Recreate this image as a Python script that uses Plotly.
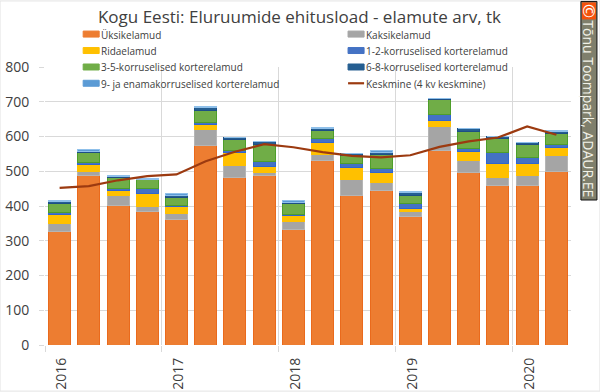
import plotly.graph_objects as go

periods = ["2016 K1","2016 K2","2016 K3","2016 K4","2017 K1","2017 K2","2017 K3","2017 K4","2018 K1",
           "2018 K2","2018 K3","2018 K4","2019 K1","2019 K2","2019 K3","2019 K4","2020 K1","2020 K2"]
x_index = list(range(len(periods)))
year_positions = [0, 4, 8, 12, 16]
year_labels = ["2016", "2017", "2018", "2019", "2020"]
year_boundaries = [-0.5, 3.5, 7.5, 11.5, 15.5]
y_ticks = [0, 100, 200, 300, 400, 500, 600, 700, 800]

uksikelamud = [328,487,402,383,361,573,481,487,332,532,431,446,369,561,497,460,460,500]
kaksikelamud = [23,13,27,15,16,46,35,10,24,17,46,23,14,69,35,23,29,46]
ridaelamud = [24,20,15,37,23,16,39,17,18,35,33,28,9,17,26,40,34,21]
k12 = [5,6,5,16,2,6,6,14,2,11,11,12,14,17,8,32,18,11]
k35 = [28,28,33,24,23,35,31,50,30,23,25,40,24,43,49,40,37,32]
k68 = [4,4,3,2,5,8,5,7,5,6,6,5,10,2,8,6,5,5]
k9 = [3,5,3,1,5,3,0,2,4,3,0,6,3,1,0,0,0,3]
keskmine = [452,457,474,486,491,529,556,578,569,555,544,540,546,570,586,597,629,605]
line_name = "Keskmine (4 kv keskmine)"
line_color = "#9c3a10"

series = [
    ("Üksikelamud", uksikelamud, "#ed7d31", "#ea6a1c"),
    ("Kaksikelamud", kaksikelamud, "#a5a5a5", "#b5b5b5"),
    ("Ridaelamud", ridaelamud, "#ffc000", "#ffc000"),
    ("1-2-korruselised korterelamud", k12, "#4472c4", "#2f66d0"),
    ("3-5-korruselised korterelamud", k35, "#70ad47", "#4e9e2a"),
    ("6-8-korruselised korterelamud", k68, "#255e91", "#1d4f85"),
    ("9- ja enamakorruselised korterelamud", k9, "#5b9bd5", "#8fc0ea"),
]

W, H = 600, 392
L, R, T, B = 45.4, 570.6, 66.7, 345.3
def px(x): return (x - L) / (R - L)
def py(y): return (B - y) / (B - T)

fig = go.Figure()
for name, vals, col, edge in series:
    fig.add_bar(x=x_index, y=vals, name=name, marker=dict(color=col, line=dict(color=edge, width=1)))
fig.add_scatter(x=x_index, y=keskmine, name=line_name, mode="lines", line=dict(color=line_color, width=2.2))

FONT = "Open Sans"
TXT = "#404040"

shapes = [
    dict(type="rect", xref="paper", yref="paper", x0=px(0.5), x1=px(599.5), y0=py(391.5), y1=py(0.5),
         line=dict(color="#e3e3e3", width=1), fillcolor="rgba(0,0,0,0)", layer="below"),
    dict(type="rect", xref="paper", yref="paper", x0=px(580.5), x1=px(596.5), y0=py(200), y1=py(1),
         line=dict(color="#111111", width=1), fillcolor="#7f7f6c"),
    dict(type="rect", xref="paper", yref="paper", x0=px(581.5), x1=px(595.5), y0=py(19), y1=py(2),
         line=dict(width=0), fillcolor="#f4510b"),
]
annotations = [
    dict(text="©", xref="paper", yref="paper", x=px(588.5), y=py(10.5), showarrow=False,
         font=dict(family=FONT, size=17, color="white"), textangle=90, xanchor="center", yanchor="middle"),
    dict(text="Tõnu Toompark, ADAUR.EE", xref="paper", yref="paper", x=px(588.5), y=py(109), showarrow=False,
         font=dict(family=FONT, size=14, color="#f2f2e8"), textangle=90, xanchor="center", yanchor="middle"),
]

# legend laid out as in the reference: two columns, tight rows
col_x = [83.5, 348]
row_y = [33.7, 50.2, 66.7, 83]
entries = [(s[0], s[2]) for s in series] + [(line_name, line_color)]
for i, (name, col) in enumerate(entries):
    cx, ry = col_x[i % 2], row_y[i // 2]
    if name == line_name:
        shapes.append(dict(type="line", xref="paper", yref="paper", x0=px(cx), x1=px(cx + 16), y0=py(ry), y1=py(ry),
                           line=dict(color=col, width=2.2)))
    else:
        shapes.append(dict(type="rect", xref="paper", yref="paper", x0=px(cx), x1=px(cx + 16), y0=py(ry + 3), y1=py(ry - 3),
                           line=dict(color=col, width=1), fillcolor=col))
    annotations.append(dict(text=name, xref="paper", yref="paper", x=px(cx + 18), y=py(ry + 0.5), showarrow=False,
                            xanchor="left", yanchor="middle", align="left", xshift=-2,
                            font=dict(family=FONT, size=10, color=TXT)))

fig.update_layout(
    width=W, height=H, barmode="stack", bargap=0.25, showlegend=False,
    paper_bgcolor="white", plot_bgcolor="white",
    margin=dict(l=L, r=W - R, t=T, b=H - B, pad=0, autoexpand=False),
    font=dict(family=FONT, color=TXT),
    title=dict(text="Kogu Eesti: Eluruumide ehitusload - elamute arv, tk", x=px(299.5), xanchor="center",
               xref="paper", y=1 - 17.5 / H, yanchor="middle", font=dict(family=FONT, size=17, color=TXT)),
    xaxis=dict(range=[-0.5, 17.5], tickmode="array", tickvals=year_positions, ticktext=year_labels,
               tickangle=-90, showgrid=False, zeroline=False, ticks="", showline=False, ticklabelstandoff=9,
               ticklabelshift=2, automargin=False, tickfont=dict(family=FONT, size=14, color=TXT),
               minor=dict(tickmode="array", tickvals=year_boundaries, showgrid=True, gridcolor="#d9d9d9",
                          gridwidth=1, ticks="outside", ticklen=6, tickcolor="#d9d9d9")),
    yaxis=dict(range=[0, 800], tickmode="array", tickvals=y_ticks, showgrid=True, gridcolor="#d9d9d9",
               gridwidth=1, zeroline=False, ticks="outside", ticklen=5, tickcolor="#d9d9d9", ticklabelstandoff=7,
               automargin=False, tickfont=dict(family=FONT, size=14, color=TXT)),
    shapes=shapes, annotations=annotations,
)
fig.write_html("out.html", config=dict(displayModeBar=False),
               post_script="document.body.style.margin='0';document.body.style.overflow='hidden';")
